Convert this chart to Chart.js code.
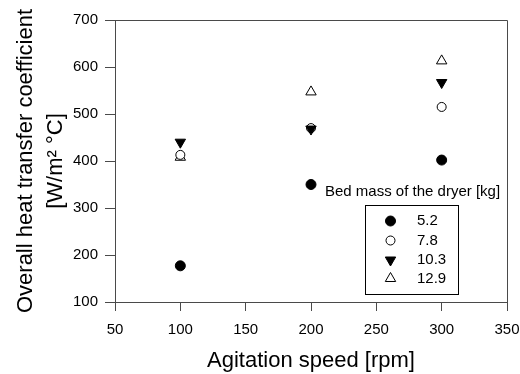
<!DOCTYPE html>
<html>
<head>
<meta charset="utf-8">
<script src="https://cdn.jsdelivr.net/npm/chart.js@4"></script>
<style>
  html, body { margin: 0; padding: 0; background: #fff; }
  #wrap { width: 520px; height: 374px; }
</style>
</head>
<body>
<div id="wrap"><canvas id="chart" width="520" height="374"></canvas></div>
<script>
// ---- data ----
const speeds = [100, 200, 300];
const mass52  = [177, 350, 402];
const mass78  = [413, 470, 515];
const mass103 = [440, 468, 567];
const mass129 = [408, 547, 613];
const xTicks = [50, 100, 150, 200, 250, 300, 350];
const yTicks = [100, 200, 300, 400, 500, 600, 700];

const AXIS = '#4a4a4a';
const FONT = "Arial, 'Liberation Sans', sans-serif";

const pts = arr => speeds.map((s, i) => ({ x: s, y: arr[i] }));

// order: lower value is drawn on top (filled down-triangle sits over the open circle at 200 rpm)
const series = [
  { label: '5.2',  data: pts(mass52),  pointStyle: 'circle',   rotation: 0,   fill: '#000', radius: 5,   order: 1 },
  { label: '7.8',  data: pts(mass78),  pointStyle: 'circle',   rotation: 0,   fill: '#fff', radius: 4.5, order: 2 },
  { label: '10.3', data: pts(mass103), pointStyle: 'triangle', rotation: 180, fill: '#000', radius: 6,   order: 0 },
  { label: '12.9', data: pts(mass129), pointStyle: 'triangle', rotation: 0,   fill: '#fff', radius: 6,   order: 3 }
];

// frame on top/right + legend box inside the plot
const framePlugin = {
  id: 'frame',
  afterDatasetsDraw(chart) {
    const { ctx, chartArea: a } = chart;
    ctx.save();
    ctx.strokeStyle = AXIS;
    ctx.lineWidth = 1;
    ctx.beginPath();
    ctx.moveTo(a.left, a.top + 0.5);
    ctx.lineTo(a.right + 0.5, a.top + 0.5);
    ctx.lineTo(a.right + 0.5, a.bottom);
    ctx.stroke();

    // legend title
    ctx.fillStyle = '#000';
    ctx.font = '15px ' + FONT;
    ctx.textBaseline = 'middle';
    ctx.textAlign = 'left';
    ctx.fillText('Bed mass of the dryer [kg]', 325, 192);

    // legend box
    ctx.strokeStyle = '#000';
    ctx.strokeRect(365.5, 205.5, 93, 89);
    const rows = [221, 240.5, 260, 278.5];
    series.forEach((s, i) => {
      ctx.fillStyle = s.fill;
      ctx.strokeStyle = '#000';
      ctx.lineWidth = 1;
      Chart.helpers.drawPoint(ctx, {
        pointStyle: s.pointStyle, rotation: s.rotation,
        radius: s.radius, borderWidth: 1
      }, 390.5, rows[i]);
      ctx.fillStyle = '#000';
      ctx.fillText(s.label, 417, rows[i]);
    });
    ctx.restore();
  }
};

new Chart(document.getElementById('chart'), {
  type: 'scatter',
  data: {
    datasets: series.map(s => ({
      label: s.label,
      data: s.data,
      order: s.order,
      pointStyle: s.pointStyle,
      rotation: s.rotation,
      pointRadius: s.radius,
      pointHoverRadius: s.radius,
      backgroundColor: s.fill,
      borderColor: '#000',
      borderWidth: 1
    }))
  },
  options: {
    responsive: false,
    animation: false,
    layout: { padding: { left: 0, right: 0, top: 20, bottom: 0 } },
    plugins: { legend: { display: false }, tooltip: { enabled: false } },
    scales: {
      x: {
        type: 'linear', min: 50, max: 350,
        afterBuildTicks: ax => { ax.ticks = xTicks.map(v => ({ value: v })); },
        afterFit: ax => { ax.height = 72; ax.paddingLeft = 0; ax.paddingRight = 13; },
        border: { color: AXIS, width: 1 },
        grid: { drawOnChartArea: false, drawTicks: true, tickLength: 9, color: AXIS },
        ticks: { color: '#000', font: { family: FONT, size: 15 }, padding: 10, maxRotation: 0 },
        title: { display: true, text: 'Agitation speed [rpm]', color: '#000', font: { family: FONT, size: 22 }, padding: { top: 4, bottom: 0 } }
      },
      y: {
        type: 'linear', min: 100, max: 700,
        afterBuildTicks: ax => { ax.ticks = yTicks.map(v => ({ value: v })); },
        afterFit: ax => { ax.width = 115; },
        border: { color: AXIS, width: 1 },
        grid: { drawOnChartArea: false, drawTicks: true, tickLength: 10, color: AXIS },
        ticks: { color: '#000', font: { family: FONT, size: 15 }, padding: 7 },
        title: {
          display: true,
          text: ['Overall heat transfer coefficient', '[W/m\u00B2 \u00B0C]'],
          color: '#000', font: { family: FONT, size: 22, lineHeight: 1.35 },
          padding: { top: 11, bottom: 0 }
        }
      }
    }
  },
  plugins: [framePlugin]
});
</script>
</body>
</html>
